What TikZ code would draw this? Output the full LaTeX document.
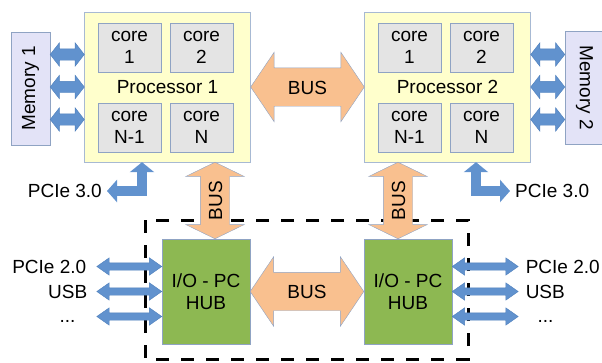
\documentclass[tikz,border=0pt]{standalone}
\usepackage{fontspec}
\setmainfont{Liberation Sans}
\usetikzlibrary{shapes.arrows,calc,arrows.meta}
\definecolor{procfill}{HTML}{FFFFCC}
\definecolor{procline}{HTML}{A7B9D3}
\definecolor{corefill}{HTML}{E4E4E4}
\definecolor{coreline}{HTML}{8FA3C3}
\definecolor{memfill}{HTML}{E3E3F7}
\definecolor{hubfill}{HTML}{8DB852}
\definecolor{busfill}{HTML}{F9C08F}
\definecolor{linkfill}{HTML}{6192CE}
\definecolor{linkline}{HTML}{4F80BC}
\newcommand{\fatlink}[5]{%
  \path let \p1=#3, \p2=#4, \n1={veclen(\x2-\x1,\y2-\y1)} in
    node[#2, minimum height=\n1] (#1) at ($(\p1)!0.5!(\p2)$) {#5};}

\begin{document}
\begin{tikzpicture}[x=1pt, y=-1pt]
  \tikzset{every node/.style={font=\fontsize{19}{22}\selectfont, text=black},
    proc/.style={draw=procline, fill=procfill, minimum width=166, minimum height=150, inner sep=0},
    core/.style={draw=coreline, fill=corefill, minimum width=63, minimum height=49, align=center, inner sep=0},
    memory/.style={draw=coreline, fill=memfill, minimum width=113, minimum height=39, inner sep=0},
    hub/.style={draw=coreline, fill=hubfill, minimum width=88, minimum height=105, align=center, inner sep=0},
    bus/.style={double arrow, draw=coreline, fill=busfill, inner xsep=2pt, text height=14pt, text depth=0pt, minimum width=0pt},
    hbus/.style={bus, inner ysep=12pt, double arrow head extend=15.5pt, double arrow tip angle=112},
    vbus/.style={bus, rotate=90, inner ysep=7.5pt, double arrow head extend=14.5pt, double arrow tip angle=128},
    memlink/.style={double arrow, draw=linkline, fill=linkfill, inner xsep=0pt, inner ysep=5.5pt, text height=0pt, text depth=0pt, minimum width=0pt, double arrow head extend=6pt, double arrow tip angle=104},
    iolink/.style={memlink, inner ysep=3.5pt, double arrow head extend=5pt, double arrow tip angle=70},
    pcielink/.style={draw=linkfill, line width=10pt, line join=miter, {Triangle[width=24pt,length=10pt]}-{Triangle[width=22pt,length=10pt]}},
    txt/.style={inner sep=0pt},
    dashbox/.style={draw=black, line width=3pt, dash pattern=on 13pt off 12pt}}
  \useasboundingbox (0,0) rectangle (602,362);

  \draw[dashbox] (145,220) rectangle (468,359);

  \node[proc] (p1) at (167.5,87) {Processor 1};
  \node[proc] (p2) at (447.5,87) {Processor 2};
  \foreach \cpu in {p1,p2} {
    \node[core] (\cpu c1) at ([shift={(-38,-39.5)}]\cpu.center) {core\\1};
    \node[core] (\cpu c2) at ([shift={(34,-39.5)}]\cpu.center) {core\\2};
    \node[core] (\cpu c3) at ([shift={(-38,40.5)}]\cpu.center) {core\\N-1};
    \node[core] (\cpu c4) at ([shift={(34,40.5)}]\cpu.center) {core\\N};
  }
  \node[memory, rotate=90] (mem1) at (30.5,88.5) {Memory 1};
  \node[memory, rotate=-90] (mem2) at (584.5,87.5) {Memory 2};
  \node[hub] (hub1) at (206,291.5) {I/O - PC\\HUB};
  \node[hub] (hub2) at (408,291.5) {I/O - PC\\HUB};

  \foreach \dy [count=\i] in {-32.5,0,32.5} {
    \fatlink{mem1link\i}{memlink}{($(p1.west -| mem1.south)+(0,\dy)$)}{($(p1.west)+(0,\dy)$)}{}
    \fatlink{mem2link\i}{memlink}{($(p2.east)+(0,\dy)$)}{($(p2.east -| mem2.south)+(0,\dy)$)}{}
  }
  \foreach \dy [count=\i] in {-25,0,25} {
    \fatlink{io1link\i}{iolink}{($(hub1.west)+(-65,\dy)$)}{($(hub1.west)+(0,\dy)$)}{}
    \fatlink{io2link\i}{iolink}{($(hub2.east)+(0,\dy)$)}{($(hub2.east)+(66,\dy)$)}{}
  }

  \fatlink{bustop}{hbus}{(p1.east)}{(p2.west)}{BUS}
  \fatlink{busbot}{hbus}{(hub1.east)}{(hub2.west)}{BUS}
  \fatlink{busleft}{vbus}{($(hub1.north)+(9,0)$)}{($(hub1.north |- p1.south)+(9,0)$)}{BUS}
  \fatlink{busright}{vbus}{($(hub2.north)+(-10,0)$)}{($(hub2.north |- p2.south)+(-10,0)$)}{BUS}

  \node[txt, anchor=east] (pcie3l) at (102,191) {PCIe 3.0};
  \node[txt, anchor=west] (pcie3r) at (515,191) {PCIe 3.0};
  \coordinate (p1io) at ([xshift=-25.5pt]p1.south);
  \coordinate (p2io) at ([xshift=28.5pt]p2.south);
  \draw[pcielink] (p1io) |- ([xshift=5pt]pcie3l.east);
  \draw[pcielink] (p2io) |- ([xshift=-5pt]pcie3r.west);

  \node[txt, anchor=east] (pcie2l) at ([xshift=-10pt]io1link1.west) {PCIe 2.0};
  \node[txt, anchor=east] (usbl) at ([xshift=-9pt]io1link2.west) {USB};
  \node[txt, anchor=base] (morel) at ([shift={(-29,6)}]io1link3.west) {...};
  \node[txt, anchor=west] (pcie2r) at ([xshift=7pt]io2link1.east) {PCIe 2.0};
  \node[txt, anchor=west] (usbr) at ([xshift=7pt]io2link2.east) {USB};
  \node[txt, anchor=base] (morer) at ([shift={(27,6)}]io2link3.east) {...};
\end{tikzpicture}
\end{document}
